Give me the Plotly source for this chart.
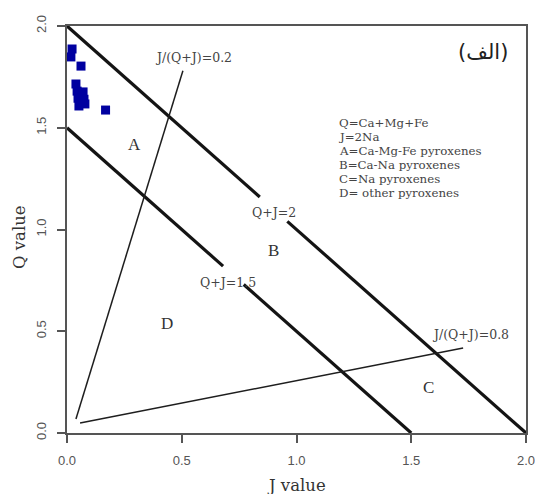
import plotly.graph_objects as go

# ---- data ----
sample_J = [0.022, 0.017, 0.061, 0.039, 0.044, 0.048, 0.074, 0.078, 0.052, 0.070, 0.168]
sample_Q = [1.887, 1.848, 1.803, 1.715, 1.680, 1.645, 1.640, 1.617, 1.607, 1.676, 1.587]

qj2_J = [0.0, 0.84, None, 0.96, 2.0]
qj2_Q = [2.0, 1.16, None, 1.04, 0.0]
qj15_J = [0.0, 0.68, None, 0.77, 1.5]
qj15_Q = [1.5, 0.82, None, 0.73, 0.0]
r02_J = [0.039, 0.505]
r02_Q = [0.069, 1.78]
r08_J = [0.057, 1.726]
r08_Q = [0.049, 0.418]

line_labels = ["Q+J=2", "Q+J=1.5", "J/(Q+J)=0.2", "J/(Q+J)=0.8"]
line_label_J = [0.902, 0.70, 0.551, 1.76]
line_label_Q = [1.086, 0.742, 1.843, 0.482]

region_labels = ["A", "B", "C", "D"]
region_J = [0.292, 0.898, 1.577, 0.436]
region_Q = [1.42, 0.899, 0.226, 0.54]

legend_lines = ["Q=Ca+Mg+Fe", "J=2Na", "A=Ca-Mg-Fe pyroxenes",
                "B=Ca-Na pyroxenes", "C=Na pyroxenes", "D= other pyroxenes"]
legend_J = 1.176
legend_Q = [1.523, 1.455, 1.386, 1.317, 1.248, 1.179]

tick_vals = [0, 0.5, 1.0, 1.5, 2.0]
tick_text = ["0.0", "0.5", "1.0", "1.5", "2.0"]

title_text = "(الف)"

# ---- figure ----
fig = go.Figure()
thick = dict(color="#141414", width=3.2)
thin = dict(color="#1e1e1e", width=1.5)
fig.add_trace(go.Scatter(x=qj2_J, y=qj2_Q, mode="lines", line=thick, connectgaps=False, cliponaxis=False))
fig.add_trace(go.Scatter(x=qj15_J, y=qj15_Q, mode="lines", line=thick, connectgaps=False, cliponaxis=False))
fig.add_trace(go.Scatter(x=r02_J, y=r02_Q, mode="lines", line=thin))
fig.add_trace(go.Scatter(x=r08_J, y=r08_Q, mode="lines", line=thin))
fig.add_trace(go.Scatter(x=sample_J, y=sample_Q, mode="markers", cliponaxis=False,
                         marker=dict(symbol="square", size=9, color="#0000A0",
                                     line=dict(width=0))))

serif = "DejaVu Serif"
for t, x, y in zip(line_labels, line_label_J, line_label_Q):
    fig.add_annotation(x=x, y=y, text=t, showarrow=False, xref="x", yref="y",
                       font=dict(family=serif, size=12.5, color="#444"))
for t, x, y in zip(region_labels, region_J, region_Q):
    fig.add_annotation(x=x, y=y, text=t, showarrow=False, xref="x", yref="y",
                       font=dict(family="Liberation Serif", size=17, color="#333"))
for t, y in zip(legend_lines, legend_Q):
    fig.add_annotation(x=legend_J, y=y, text=t, showarrow=False, xref="x", yref="y",
                       xanchor="left", yanchor="middle",
                       font=dict(family=serif, size=11.8, color="#444"))
fig.add_annotation(x=1.93, y=1.872, text=title_text, showarrow=False, xref="x", yref="y",
                   xanchor="right", yanchor="middle",
                   font=dict(family="DejaVu Sans", size=21, color="#222"))
fig.add_annotation(x=0.5, y=-0.128, text="J value", showarrow=False, xref="paper", yref="paper",
                   xanchor="center", yanchor="middle",
                   font=dict(family=serif, size=16.5, color="#333"))
fig.add_annotation(x=-0.1024, y=0.4816, text="Q value", showarrow=False, xref="paper", yref="paper",
                   xanchor="center", yanchor="middle", textangle=-90,
                   font=dict(family=serif, size=16.5, color="#333"))

axis_common = dict(range=[0, 2], tickvals=tick_vals, ticktext=tick_text, ticks="outside",
                   ticklen=8, tickwidth=1.5, tickcolor="#555", showline=True, linecolor="#555",
                   linewidth=2, mirror=True, showgrid=False, zeroline=False, automargin=False,
                   ticklabeloverflow="allow",
                   tickfont=dict(family="Liberation Sans", size=13, color="#555"))
fig.update_layout(
    width=535, height=494, showlegend=False,
    margin=dict(l=67, r=9, t=26, b=61, autoexpand=False),
    paper_bgcolor="white", plot_bgcolor="white",
    xaxis=dict(**axis_common, ticklabelstandoff=6),
    yaxis=dict(**axis_common, tickangle=-90, ticklabelstandoff=6),
)
fig.write_html("out.html")
